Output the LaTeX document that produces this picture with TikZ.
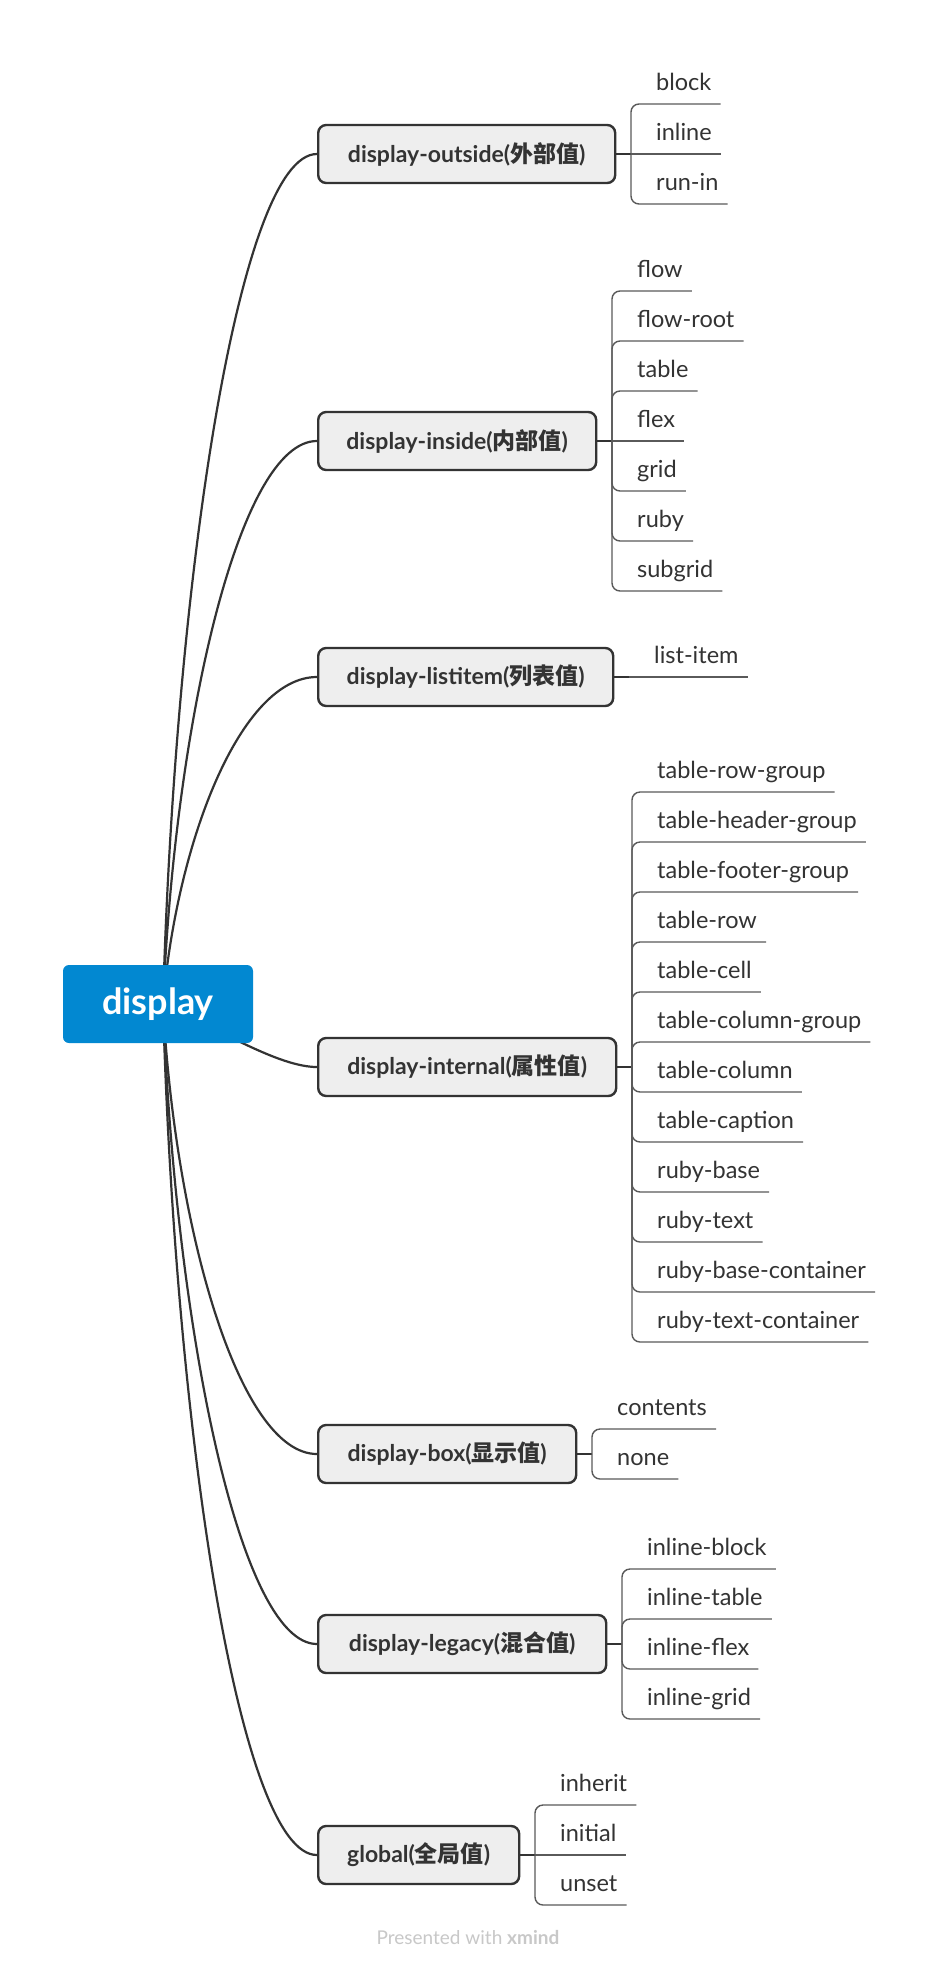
\documentclass[tikz,border=0pt]{standalone}
\usepackage{fontspec}
\setmainfont{Lato}
\newfontfamily\cjk{Noto Sans CJK SC}
\usetikzlibrary{calc,backgrounds}
\definecolor{rootblue}{HTML}{0288D1}
\definecolor{brfill}{HTML}{EEEEEE}
\definecolor{ink}{HTML}{333333}
\definecolor{leafink}{HTML}{5A5A5A}
\definecolor{footgray}{HTML}{C8C8C8}
\newcommand\leafgroup[6]{%
  \coordinate (#1s) at (#4,#3);
  \draw[brline] (#2.east) -- (#1s);
  \foreach \lf [count=\i] in {#6} {
    \pgfmathsetmacro\ly{#5+50*(\i-1)}
    \pgfmathtruncatemacro\isc{abs(\ly-#3)<1}
    \node[leaf] (#1\i) at (#4+25,\ly-14) {\lf};
    \ifnum\isc=1
      \draw[leafline] (#1s) -- ($(#1\i.base east)+(9,14)$);
    \else
      \draw[leafline] (#1s) |- ($(#1\i.base east)+(9,14)$);
    \fi
  }
}
\begin{document}
\begin{tikzpicture}[x=1pt,y=-1pt,
  rootnode/.style={fill=rootblue,rounded corners=6pt,minimum width=190pt,minimum height=78pt,inner sep=0pt,text=white,font=\bfseries\fontsize{36}{40}\selectfont},
  branch/.style={draw=ink,line width=2.4pt,fill=brfill,rounded corners=8pt,minimum height=58pt,inner sep=0pt,text=ink,font=\bfseries\fontsize{23}{27}\selectfont,anchor=west},
  leaf/.style={anchor=base west,inner sep=0pt,text=ink,font=\fontsize{23.5}{27}\selectfont},
  leafline/.style={draw=leafink,line width=1.4pt,rounded corners=8pt},
  brline/.style={draw=ink,line width=2pt},
  rootline/.style={draw=ink,line width=2.2pt},
]
\useasboundingbox (0,0) rectangle (938,1968);

\node[rootnode] (root) at (158,1004) {display};
\coordinate (rc) at (163,1004);

\node[branch,minimum width=297pt] (bo) at (317,154) {display-outside({\cjk 外部值})};
\node[branch,minimum width=278pt] (bi) at (317,441) {display-inside({\cjk 内部值})};
\node[branch,minimum width=295pt] (bl) at (317,677) {display-listitem({\cjk 列表值})};
\node[branch,minimum width=298pt] (bn) at (317,1067) {display-internal({\cjk 属性值})};
\node[branch,minimum width=258pt] (bb) at (317,1454) {display-box({\cjk 显示值})};
\node[branch,minimum width=288pt] (bg) at (317,1644) {display-legacy({\cjk 混合值})};
\node[branch,minimum width=201pt] (bz) at (317,1855) {global({\cjk 全局值})};

\begin{scope}[on background layer]
\fill[white] (0,0) rectangle (938,1968);
\draw[rootline] (rc) .. controls +(12,-425) and +(-78,0) .. (bo.west);
\draw[rootline] (rc) .. controls +(12,-282) and +(-78,0) .. (bi.west);
\draw[rootline] (rc) .. controls +(14,-164) and +(-76,0) .. (bl.west);
\draw[rootline] (rc) .. controls +(57,26) and +(-38,0) .. (bn.west);
\draw[rootline] (rc) .. controls +(12,225) and +(-78,0) .. (bb.west);
\draw[rootline] (rc) .. controls +(12,320) and +(-78,0) .. (bg.west);
\draw[rootline] (rc) .. controls +(12,426) and +(-78,0) .. (bz.west);
\end{scope}

\leafgroup{o}{bo}{154}{631}{104}{block,inline,run-in}
\leafgroup{i}{bi}{441}{612}{291}{flow,flow-root,table,flex,grid,ruby,subgrid}
\leafgroup{l}{bl}{677}{629}{677}{list-item}
\leafgroup{n}{bn}{1067}{632}{792}{table-row-group,table-header-group,table-footer-group,table-row,table-cell,table-column-group,table-column,table-caption,ruby-base,ruby-text,ruby-base-container,ruby-text-container}
\leafgroup{b}{bb}{1454}{592}{1429}{contents,none}
\leafgroup{g}{bg}{1644}{622}{1569}{inline-block,inline-table,inline-flex,inline-grid}
\leafgroup{z}{bz}{1855}{535}{1805}{inherit,initial,unset}

\node[text=footgray,font=\fontsize{19}{22}\selectfont] (foot) at (468,1937) {Presented with \textbf{xmind}};
\end{tikzpicture}
\end{document}
